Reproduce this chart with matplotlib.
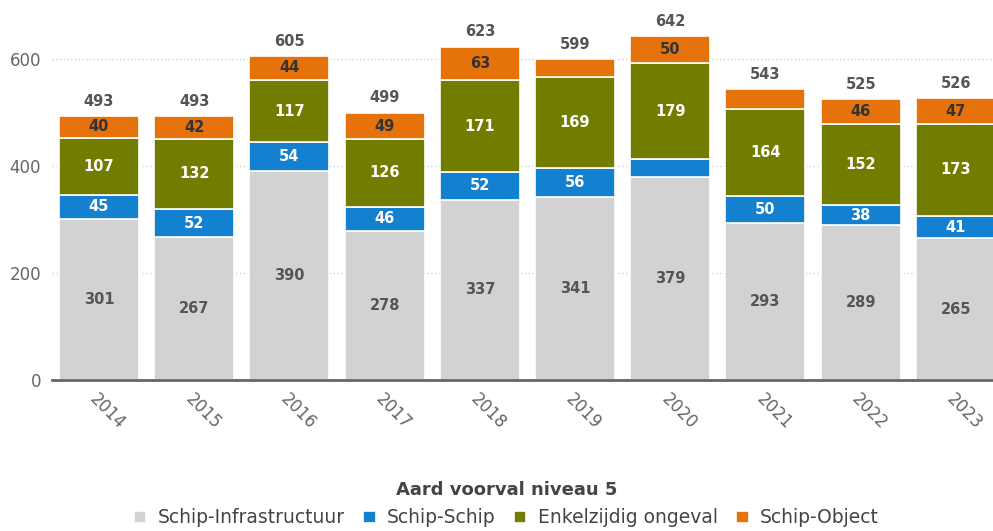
import numpy as np
import matplotlib
matplotlib.use('Agg')
import matplotlib.pyplot as plt

# Gegevens
jaren = ['2014', '2015', '2016', '2017', '2018', '2019', '2020', '2021', '2022', '2023']
infra = [301, 267, 390, 278, 337, 341, 379, 293, 289, 265]
schip = [45, 52, 54, 46, 52, 56, 34, 50, 38, 41]
enkel = [107, 132, 117, 126, 171, 169, 179, 164, 152, 173]
obj = [40, 42, 44, 49, 63, 33, 50, 36, 46, 47]

series = [
    ('Schip-Infrastructuur', infra, '#d2d2d2', '#555555'),
    ('Schip-Schip', schip, '#1480d0', 'white'),
    ('Enkelzijdig ongeval', enkel, '#727d00', 'white'),
    ('Schip-Object', obj, '#e5720b', '#333333'),
]

fig = plt.figure(figsize=(9.93, 5.31), dpi=100)
ax = fig.add_axes([52 / 993, 151 / 531, 1 - 52 / 993, 380 / 531])

x = np.arange(len(jaren))
bottom = np.zeros(len(jaren))
for naam, vals, kleur, tekstkleur in series:
    vals = np.array(vals)
    ax.bar(x, vals, 0.84, bottom=bottom, color=kleur, edgecolor='white',
           linewidth=1.2, label=naam, zorder=2)
    for xi, b, v in zip(x, bottom, vals):
        # kleine segmenten krijgen geen label
        if v >= 37:
            ax.text(xi, b + v / 2, str(v), ha='center', va='center',
                    fontsize=10.5, fontweight='bold', color=tekstkleur, zorder=3)
    bottom = bottom + vals

# Totalen boven de staven
for xi, t in zip(x, bottom):
    ax.text(xi, t + 14, str(int(t)), ha='center', va='bottom',
            fontsize=10.5, fontweight='bold', color='#555555')

ax.set_xlim(-0.494, 9.39)
ax.set_ylim(0, 710)
ax.set_yticks([0, 200, 400, 600])
ax.set_xticks(x)
ax.set_xticklabels(jaren, rotation=-45, ha='left', rotation_mode='anchor')
ax.tick_params(axis='x', length=0, pad=7, labelsize=12, labelcolor='#666666')
ax.tick_params(axis='y', length=0, pad=8, labelsize=12, labelcolor='#666666')
ax.grid(axis='y', linestyle=(0, (1, 2)), color='#cccccc', linewidth=0.9, zorder=0)
for s in ['top', 'right', 'left']:
    ax.spines[s].set_visible(False)
ax.spines['bottom'].set_color('#666666')
ax.spines['bottom'].set_linewidth(2)

leg = fig.legend(loc='lower center', bbox_to_anchor=(0.51, -0.025), ncol=4,
                 frameon=False, fontsize=13.5, handlelength=0.65, handleheight=0.65,
                 handletextpad=0.6, columnspacing=1.0,
                 title='Aard voorval niveau 5',
                 title_fontproperties={'weight': 'bold', 'size': 13})
for t in leg.get_texts():
    t.set_color('#444444')
leg.get_title().set_color('#444444')

fig.savefig('out.png', dpi=100)
